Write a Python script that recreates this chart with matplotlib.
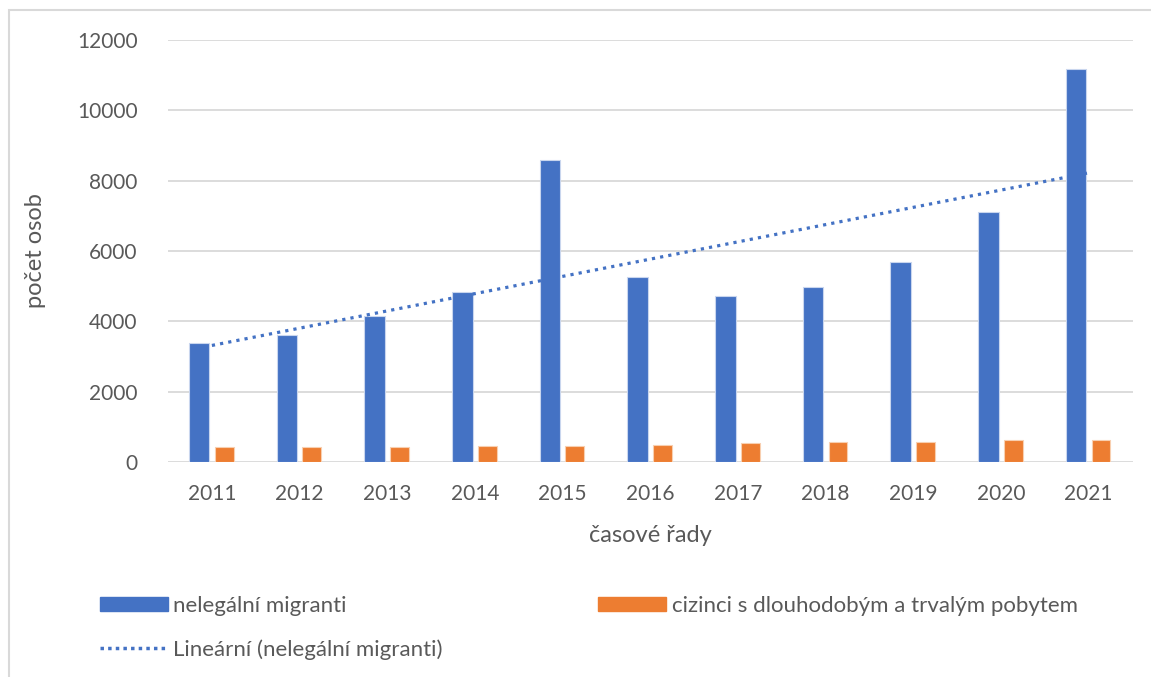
import numpy as np
import matplotlib.pyplot as plt
from matplotlib.patches import Rectangle
from matplotlib.lines import Line2D

# === DATA ===
years = ["2011", "2012", "2013", "2014", "2015", "2016",
         "2017", "2018", "2019", "2020", "2021"]
nelegalni = [3380, 3600, 4150, 4820, 8580, 5270, 4720, 4980, 5680, 7100, 11170]
cizinci = [425, 425, 430, 460, 465, 485, 530, 560, 560, 625, 625]

BLUE = "#4472c4"
ORANGE = "#ed7d31"
GREY_TXT = "#595959"
GRID = "#d9d9d9"

plt.rcParams['font.family'] = ['Lato', 'DejaVu Sans']

fig = plt.figure(figsize=(11.51, 6.77), dpi=100)
ax = fig.add_axes([0.146, 0.3176, 0.838, 0.6234])

x = np.arange(len(years))
ax.bar(x - 0.145, nelegalni, width=0.235, color=BLUE, edgecolor="#c9d6ee", linewidth=0.8,
       label="nelegální migranti", zorder=3)
ax.bar(x + 0.14, cizinci, width=0.215, color=ORANGE, edgecolor="#f8cfb0", linewidth=0.8,
       label="cizinci s dlouhodobým a trvalým pobytem", zorder=3)

# linear trendline (least squares, like Excel)
k, q = np.polyfit(x + 1, nelegalni, 1)
ax.plot(x, k * (x + 1) + q, color=BLUE, linestyle=(0, (1, 1.6)), linewidth=2.3,
        label="Lineární (nelegální migranti)", zorder=4)

# === STYLE ===
ax.set_xlim(-0.5, len(years) - 0.5)
ax.set_ylim(0, 12000)
ax.set_yticks(range(0, 12001, 2000))
ax.set_xticks(x)
ax.set_xticklabels(years)
ax.yaxis.grid(True, color=GRID, linewidth=1.3, zorder=0)
ax.set_axisbelow(True)
for s in ax.spines.values():
    s.set_visible(False)
ax.tick_params(length=0, labelsize=15, colors=GREY_TXT, pad=16)
ax.tick_params(axis='y', pad=22)
ax.set_xlabel("časové řady", fontsize=17, color=GREY_TXT, labelpad=15)
ax.set_ylabel("počet osob", fontsize=17, color=GREY_TXT, labelpad=22)

# legend below the plot
handles = [Rectangle((0, 0), 1, 1, color=BLUE),
           Line2D([0], [0], color=BLUE, linestyle=(0, (1, 1.2)), linewidth=2.5),
           Rectangle((0, 0), 1, 1, color=ORANGE)]
labels = ["nelegální migranti", "Lineární (nelegální migranti)",
          "cizinci s dlouhodobým a trvalým pobytem"]
leg = fig.legend(handles, labels, ncol=2, loc="upper left",
                 bbox_to_anchor=(100 / 1151, 1 - 596 / 677), bbox_transform=fig.transFigure,
                 frameon=False, fontsize=16, handlelength=3.05, handleheight=0.6,
                 handletextpad=0.25, columnspacing=7.0, labelspacing=1.05,
                 borderpad=0, borderaxespad=0, labelcolor=GREY_TXT)

# outer chart frame
fig.add_artist(Rectangle((9 / 1151, -0.05), 1.2, 1 - 10 / 677 + 0.05,
                         transform=fig.transFigure, fill=False,
                         edgecolor=GRID, linewidth=1.5))

fig.savefig("out.png", dpi=100)
